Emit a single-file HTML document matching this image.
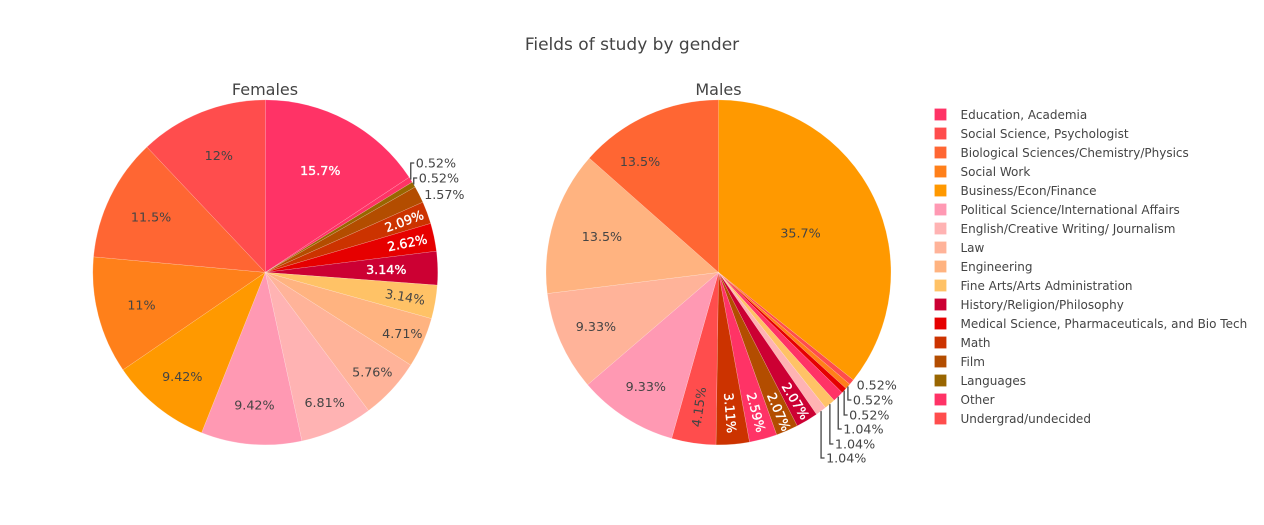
<!DOCTYPE html>
<html>
<head>
<meta charset="utf-8">
<title>Fields of study by gender</title>
<style>
html,body{margin:0;padding:0;background:#fff;width:1264px;height:525px;overflow:hidden}
svg{display:block}
text{font-family:"DejaVu Sans","Liberation Sans",sans-serif;fill:#444}
</style>
</head>
<body>
<svg id="chart" xmlns="http://www.w3.org/2000/svg" width="1264" height="525" viewBox="0 0 1264 525">
  <rect x="0" y="0" width="1264" height="525" fill="#fff"/>
  <text x="632" y="50" text-anchor="middle" font-size="17">Fields of study by gender</text>
  <text x="265" y="95" text-anchor="middle" font-size="16">Females</text>
  <text x="718.5" y="95" text-anchor="middle" font-size="16">Males</text>
  <g id="females-pie"></g>
  <g id="males-pie"></g>
  <g id="legend"></g>
</svg>
<script>
const legendCategories = ["Education, Academia","Social Science, Psychologist","Biological Sciences/Chemistry/Physics","Social Work","Business/Econ/Finance","Political Science/International Affairs","English/Creative Writing/ Journalism","Law","Engineering","Fine Arts/Arts Administration","History/Religion/Philosophy","Medical Science, Pharmaceuticals, and Bio Tech","Math","Film","Languages","Other","Undergrad/undecided"];

const femaleCategories = ["Education, Academia","Other","Languages","Film","Math","Medical Science, Pharmaceuticals, and Bio Tech","History/Religion/Philosophy","Fine Arts/Arts Administration","Engineering","Law","English/Creative Writing/ Journalism","Political Science/International Affairs","Business/Econ/Finance","Social Work","Biological Sciences/Chemistry/Physics","Social Science, Psychologist"];
const femaleValues = [30,1,1,3,4,5,6,6,9,11,13,18,18,21,22,23];

const maleCategories = ["Business/Econ/Finance","Undergrad/undecided","Social Work","Medical Science, Pharmaceuticals, and Bio Tech","Other","Fine Arts/Arts Administration","English/Creative Writing/ Journalism","History/Religion/Philosophy","Film","Education, Academia","Math","Social Science, Psychologist","Political Science/International Affairs","Law","Engineering","Biological Sciences/Chemistry/Physics"];
const maleValues = [68.9,1,1,1,2,2,2,4,4,5,6,8,18,18,26,26];

/* styling, keyed by category */
const categoryColors = {
  "Education, Academia":"#ff3366","Social Science, Psychologist":"#ff4d4d","Biological Sciences/Chemistry/Physics":"#ff6633",
  "Social Work":"#ff801a","Business/Econ/Finance":"#ff9900","Political Science/International Affairs":"#ff99b3",
  "English/Creative Writing/ Journalism":"#ffb3b3","Law":"#ffb399","Engineering":"#ffb380","Fine Arts/Arts Administration":"#ffc266",
  "History/Religion/Philosophy":"#cc0033","Medical Science, Pharmaceuticals, and Bio Tech":"#e60000","Math":"#cc3300",
  "Film":"#b34d00","Languages":"#996600","Other":"#ff3366","Undergrad/undecided":"#ff4d4d"
};
const whiteLabelCategories = ["Education, Academia","History/Religion/Philosophy","Medical Science, Pharmaceuticals, and Bio Tech","Math","Film","Languages","Other"];

/* label placement rules, keyed by category (r = distance from centre; radial = text follows the radius; turn = degrees off the slice middle) */
const femaleLabelRules = {
  "Education, Academia":{r:116},"Other":{outY:163,leader:true},"Languages":{outY:178,leader:true},"Film":{out:true},
  "Math":{r:148,radial:true},"Medical Science, Pharmaceuticals, and Bio Tech":{r:145,radial:true},
  "History/Religion/Philosophy":{r:121},"Fine Arts/Arts Administration":{r:142,radial:true},"Engineering":{r:150},
  "Law":{r:146},"English/Creative Writing/ Journalism":{r:143},"Political Science/International Affairs":{r:133},
  "Business/Econ/Finance":{r:133},"Social Work":{r:128},"Biological Sciences/Chemistry/Physics":{r:127},"Social Science, Psychologist":{r:126}
};
const maleLabelRules = {
  "Business/Econ/Finance":{r:91},"Undergrad/undecided":{out:true,dy:3},"Social Work":{outY:400,leader:true},
  "Medical Science, Pharmaceuticals, and Bio Tech":{outY:415,leader:true},"Other":{outY:429,leader:true},
  "Fine Arts/Arts Administration":{outY:444,leader:true},"English/Creative Writing/ Journalism":{outY:458,leader:true},
  "History/Religion/Philosophy":{r:150,radial:true},"Film":{r:152,radial:true},"Education, Academia":{r:145,radial:true},
  "Math":{r:141,radial:true},"Social Science, Psychologist":{r:136,radial:true},"Political Science/International Affairs":{r:135},
  "Law":{r:134},"Engineering":{r:122},"Biological Sciences/Chemistry/Physics":{r:136,turn:-11}
};

const SVG_NS = "http://www.w3.org/2000/svg";
const LABEL_SIZE = 12.7;

function make(tag, parent) {
  const el = document.createElementNS(SVG_NS, tag);
  parent.appendChild(el);
  return el;
}
function slug(s) {
  return s.toLowerCase().replace(/[^a-z0-9]+/g, "-").replace(/^-|-$/g, "");
}
function formatPercent(v, total) {
  return Number(Number((v / total * 100).toPrecision(3)).toFixed(2)) + "%";
}
function polar(cx, cy, r, deg) {
  const a = deg * Math.PI / 180;
  return [cx + r * Math.sin(a), cy - r * Math.cos(a)];
}

function drawPie(groupId, prefix, categories, values, rules, cx, cy, radius) {
  const group = document.getElementById(groupId);
  const total = values.reduce((a, b) => a + b, 0);
  const angle = v => v / total * 360;
  let running = 0;
  const overlays = [];
  categories.forEach((cat, i) => {
    const start = angle(running);
    const end = angle(running + values[i]);
    running += values[i];
    const mid = (start + end) / 2;
    const p0 = polar(cx, cy, radius, start);
    const p1 = polar(cx, cy, radius, end);
    const large = end - start > 180 ? 1 : 0;
    const slice = make("path", group);
    
    
    slice.setAttribute("d", "M" + cx + "," + cy + "L" + p0[0] + "," + p0[1] + "A" + radius + "," + radius + " 0 " + large + " 1 " + p1[0] + "," + p1[1] + "Z");
    slice.setAttribute("fill", categoryColors[cat]);
    slice.setAttribute("stroke", "#ffffff");
    slice.setAttribute("stroke-opacity", "0.35");
    slice.setAttribute("stroke-width", "0.5");
    overlays.push({cat: cat, mid: mid, value: values[i]});
  });
  overlays.forEach(o => {
    const rule = rules[o.cat];
    const text = make("text", group);
    
    
    text.setAttribute("font-size", LABEL_SIZE);
    text.textContent = formatPercent(o.value, total);
    if (rule.r) {
      const p = polar(cx, cy, rule.r, o.mid + (rule.turn || 0));
      let rot = 0;
      if (rule.radial) {
        rot = o.mid <= 180 ? o.mid - 90 : o.mid + 90;
      }
      text.setAttribute("text-anchor", "middle");
      text.setAttribute("dy", "0.36em");
      text.setAttribute("transform", "translate(" + p[0] + "," + p[1] + ") rotate(" + rot + ")");
      if (whiteLabelCategories.includes(o.cat)) {
        text.style.fill = "#fff";
        text.style.stroke = "#fff";
        text.style.strokeWidth = "0.35";
      }
    } else {
      const e = polar(cx, cy, radius, o.mid);
      const y = rule.outY !== undefined ? rule.outY : e[1] + (rule.dy || 0);
      text.setAttribute("x", e[0] + 5);
      text.setAttribute("y", y);
      text.setAttribute("dy", "0.36em");
      if (rule.leader) {
        const line = make("path", group);
        
        
        line.setAttribute("d", "M" + e[0] + "," + e[1] + "V" + y + "h3.5");
        line.setAttribute("fill", "none");
        line.setAttribute("stroke", "#444");
        line.setAttribute("stroke-width", "1.3");
      }
    }
  });
}

function drawLegend() {
  const group = document.getElementById("legend");
  legendCategories.forEach((cat, i) => {
    const y = 114.5 + i * 19;
    const entry = make("g", group);
    
    
    const swatch = make("rect", entry);
    
    
    swatch.setAttribute("x", 934.5);
    swatch.setAttribute("y", y - 6);
    swatch.setAttribute("width", 12);
    swatch.setAttribute("height", 12);
    swatch.setAttribute("fill", categoryColors[cat]);
    swatch.setAttribute("stroke", "#ffffff");
    swatch.setAttribute("stroke-opacity", "0.35");
    swatch.setAttribute("stroke-width", "0.5");
    const label = make("text", entry);
    
    
    label.setAttribute("x", 960.5);
    label.setAttribute("y", y);
    label.setAttribute("dy", "0.36em");
    label.setAttribute("font-size", 12);
    label.textContent = cat;
  });
}

drawPie("females-pie", "females", femaleCategories, femaleValues, femaleLabelRules, 265.3, 272.4, 172.5);
drawPie("males-pie", "males", maleCategories, maleValues, maleLabelRules, 718.5, 272.4, 172.5);
drawLegend();
</script>
</body>
</html>
